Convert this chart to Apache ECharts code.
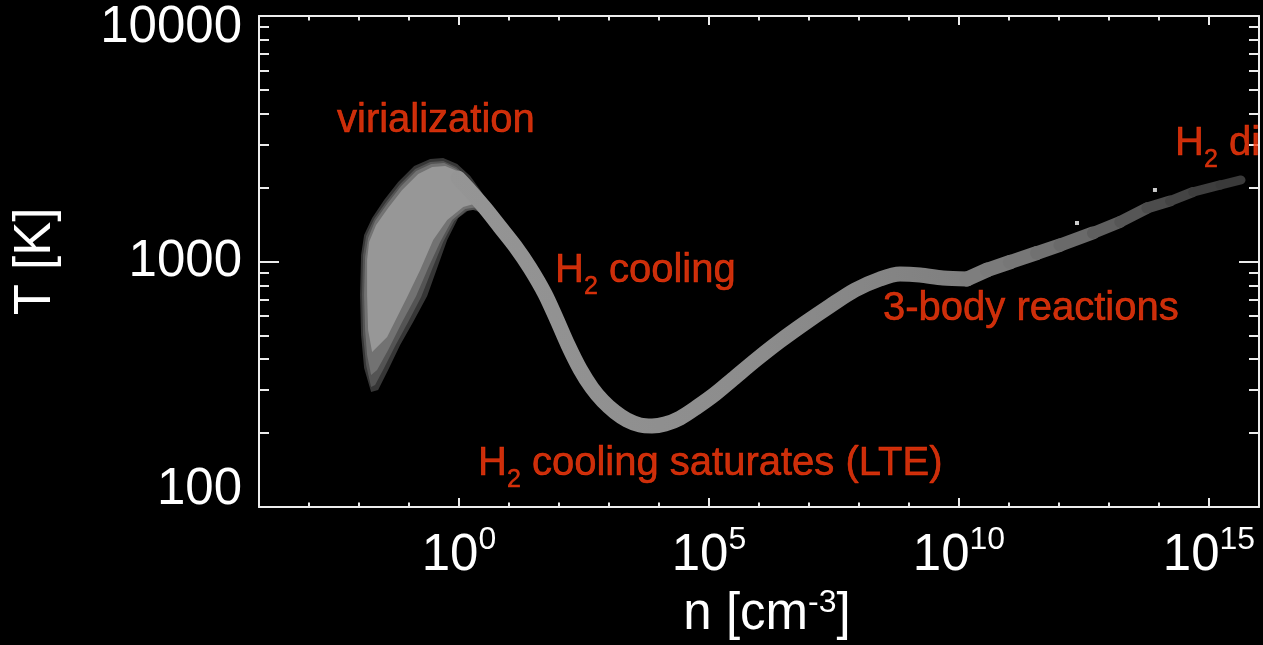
<!DOCTYPE html>
<html>
<head>
<meta charset="utf-8">
<script src="https://cdn.jsdelivr.net/npm/echarts@6/dist/echarts.min.js"></script>
<style>
  html, body { margin: 0; padding: 0; background: #000; }
  #chart { width: 1263px; height: 645px; }
</style>
</head>
<body>
<div id="chart"></div>
<script>
// Collapse track of primordial gas: number density n [cm^-3] vs temperature T [K]
const trackN = [0.955, 1.738, 3.311, 6.607, 13.18, 26.3, 52.5, 91.2, 151.4, 263, 457, 758.6, 1318, 2291,
  4169, 7244, 13180, 26300, 57540, 131800, 302000, 912000, 2.63e6, 8.32e6, 2.63e7, 8.32e7,
  2.63e8, 6.61e8, 1.66e9, 4.79e9, 1.445e10, 3.63e10, 1.047e11, 3.63e11, 1.047e12, 4.79e12,
  1.66e13, 5.75e13, 1.66e14, 4.79e14, 1.66e15, 4.37e15];
const trackT = [2188, 1920, 1651, 1382, 1156, 941, 737.4, 577.8, 457.0, 364.9, 305.3, 270, 243.8, 226.2,
  215.8, 213.8, 217.8, 230.4, 255.5, 288.6, 332.2, 400.7, 474.4, 561.6, 658.7, 765.5,
  848.7, 889.5, 881, 856.6, 848.7, 923.5, 995, 1083, 1167, 1307,
  1449, 1651, 1763, 1919, 2049, 2148];

// Spread of the halo population around virialization, outer to inner envelope [n, T]
const envelopeOuter = [[0.01746, 294.0], [0.01265, 368.3], [0.01101, 501.9], [0.01052, 730.4],
  [0.01101, 1063], [0.01265, 1282], [0.01828, 1504], [0.03177, 1780], [0.06065, 2108],
  [0.1268, 2449], [0.2651, 2615], [0.4828, 2640], [0.9204, 2496], [1.676, 2230], [2.657, 1956],
  [3.842, 1731], [2.914, 1576], [1.676, 1636], [0.9638, 1504], [0.5804, 1224], [0.3662, 941],
  [0.2309, 723.7], [0.1211, 567.1], [0.0665, 457.0], [0.03825, 361.4], [0.0241, 299.6]];
const envelopeWide = [[0.01746, 308.2], [0.01387, 378.8], [0.01207, 501.9], [0.01153, 730.4],
  [0.01207, 1063], [0.01387, 1270], [0.02004, 1490], [0.03483, 1748], [0.0665, 2069],
  [0.1328, 2382], [0.2651, 2543], [0.4828, 2567], [0.8789, 2426], [1.528, 2188], [2.423, 1938],
  [3.504, 1715], [2.537, 1636], [1.394, 1606], [0.8015, 1462], [0.4828, 1201], [0.2907, 932.1],
  [0.1751, 716.9], [0.09616, 567.1], [0.05281, 452.7], [0.03177, 368.3], [0.02099, 314.0]];
const envelopeMid = [[0.01746, 344.9], [0.01452, 416.0], [0.01324, 526.0], [0.01265, 730.4],
  [0.01324, 1043], [0.01521, 1246], [0.02099, 1462], [0.03652, 1715], [0.06964, 2030],
  [0.1390, 2337], [0.2776, 2496], [0.5056, 2519], [0.8789, 2382], [1.459, 2148], [2.313, 1920],
  [3.346, 1699], [2.423, 1667], [1.331, 1636], [0.7307, 1476], [0.4204, 1201], [0.2417, 941],
  [0.1390, 723.7], [0.07293, 567.1], [0.03825, 436.0], [0.02301, 361.4]];
const envelopeCore = [[0.01828, 427.9], [0.01521, 526.0], [0.01452, 730.4], [0.01452, 1014],
  [0.01592, 1201], [0.02198, 1408], [0.03825, 1651], [0.07293, 1956], [0.1525, 2272],
  [0.2907, 2426], [0.5294, 2449], [0.9204, 2337], [1.528, 2128], [2.423, 1901], [3.504, 1699],
  [2.313, 1731], [1.2137, 1667], [0.5804, 1476], [0.3044, 1224], [0.1672, 923.5],
  [0.09183, 716.9], [0.03652, 492.6], [0.0241, 452.7]];

// Stray single-cell points above the high-density track
const strayN = [2.29e12, 8.3e13];
const strayT = [1435, 1956];

// Process annotations (anchor: left edge, vertical middle)
const noteTexts = ['{t|virialization}', '{t|H}{sub|2}{t| cooling}',
  '{t|H}{sub|2}{t| cooling saturates (LTE)}', '{t|3-body reactions}', '{t|H}{sub|2}{t| di}'];
const noteN = [0.003631, 83.2, 2.399, 3.02e8, 2.089e14];
const noteT = [3736, 914.9, 149.7, 640.5, 3010];

// Axis ticks and labels
const xMajorTicks = [1, 1e5, 1e10, 1e15];
const xMajorExponents = ['0', '5', '10', '15'];
const xMinorTicks = [1e-3, 1e-2, 1e-1, 1e1, 1e2, 1e3, 1e4, 1e6, 1e7, 1e8, 1e9,
  1e11, 1e12, 1e13, 1e14];
const yMajorTicks = [100, 1000, 10000];
const yTickLabels = ['100', '1000', '10000'];
const yMinorTicks = [200, 300, 400, 500, 600, 700, 800, 900,
  2000, 3000, 4000, 5000, 6000, 7000, 8000, 9000];

const FONT = 'Liberation Sans';
const AXIS_COLOR = '#ececec';
const NOTE_COLOR = '#ff3a0c';

// The high-density end of the track thins out and darkens
const TAIL_START = 30;
const tailWidths = [15, 14.5, 14, 13.5, 13, 12, 11.5, 11, 10, 9.5, 9];
const tailColors = ['#7e7e7e', '#7b7b7b', '#777777', '#717171', '#6a6a6a', '#5f5f5f',
  '#565656', '#4c4c4c', '#444444', '#3e3e3e', '#3a3a3a'];

function pairs(xs, ys) { return xs.map((x, i) => [x, ys[i]]); }
const track = pairs(trackN, trackT);

function envelopeSeries(points, color) {
  return {
    type: 'custom', xAxisIndex: 0, yAxisIndex: 0, z: 3, silent: true,
    data: points,
    renderItem: function (params, api) {
      if (params.dataIndex !== 0) return null;
      return {
        type: 'polygon',
        shape: { points: points.map(p => api.coord(p)) },
        style: { fill: color }
      };
    }
  };
}

function trackLine(from, to, width, color, smooth) {
  return {
    type: 'line', xAxisIndex: 0, yAxisIndex: 0, z: 4, silent: true,
    data: track.slice(from, to + 1),
    showSymbol: false, smooth: smooth,
    lineStyle: { width: width, cap: 'round', join: 'round', color: color }
  };
}

const trackSeries = [
  trackLine(0, TAIL_START, 15, new echarts.graphic.LinearGradient(0, 0, 1, 0, [
    { offset: 0, color: '#959595' }, { offset: 0.6, color: '#8c8c8c' }, { offset: 1, color: '#7f7f7f' }
  ]), 0.3)
];
for (let i = TAIL_START; i < track.length - 1; i++) {
  const k = i - TAIL_START;
  trackSeries.push(trackLine(i, i + 1, tailWidths[k], tailColors[k], false));
}

function xAxis(position, ticks, len, labels) {
  return {
    type: 'log', logBase: 10, min: 1e-4, max: 1e16, position: position, gridIndex: 0,
    axisLine: { show: labels !== null, onZero: false, lineStyle: { color: AXIS_COLOR, width: 2 } },
    axisTick: { show: true, inside: true, length: len, customValues: ticks,
      lineStyle: { color: AXIS_COLOR, width: 2 } },
    axisLabel: labels ? labels : { show: false },
    splitLine: { show: false }, minorTick: { show: false }
  };
}
function yAxis(position, ticks, len, labels) {
  return {
    type: 'log', logBase: 10, min: 100, max: 10000, position: position, gridIndex: 0,
    axisLine: { show: labels !== null, onZero: false, lineStyle: { color: AXIS_COLOR, width: 2 } },
    axisTick: { show: true, inside: true, length: len, customValues: ticks,
      lineStyle: { color: AXIS_COLOR, width: 2 } },
    axisLabel: labels ? labels : { show: false },
    splitLine: { show: false }, minorTick: { show: false }
  };
}

const xLabels = {
  show: true, customValues: xMajorTicks, margin: 17, color: '#fff', fontFamily: FONT,
  formatter: function (v) {
    const i = xMajorTicks.findIndex(t => Math.abs(Math.log10(t) - Math.log10(v)) < 1e-6);
    return '{b|10}{s|' + xMajorExponents[i] + '}';
  },
  rich: {
    b: { fontSize: 51, color: '#fff', fontFamily: FONT },
    s: { fontSize: 32, color: '#fff', fontFamily: FONT, padding: [0, 0, 32, 0] }
  }
};
const yLabels = {
  show: true, customValues: yMajorTicks, margin: 17, color: '#fff', fontFamily: FONT,
  formatter: function (v) {
    const i = yMajorTicks.findIndex(t => Math.abs(t - v) < 1e-6 * t);
    const key = i === 0 ? 'lo' : (i === yMajorTicks.length - 1 ? 'hi' : 'mid');
    return '{' + key + '|' + yTickLabels[i] + '}';
  },
  rich: {
    lo: { fontSize: 51, color: '#fff', fontFamily: FONT, padding: [0, 0, 34, 0] },
    mid: { fontSize: 51, color: '#fff', fontFamily: FONT },
    hi: { fontSize: 51, color: '#fff', fontFamily: FONT, padding: [24, 0, 0, 0] }
  }
};

const xMain = xAxis('bottom', xMajorTicks, 9, xLabels);
xMain.name = '{b|n [cm}{s|-3}{b|]}';
xMain.nameLocation = 'middle';
xMain.nameGap = 80;
xMain.nameMoveOverlap = false;
xMain.nameTextStyle = {
  padding: [0, 0, 0, 16],
  rich: {
    b: { fontSize: 51, color: '#fff', fontFamily: FONT },
    s: { fontSize: 32, color: '#fff', fontFamily: FONT, padding: [0, 0, 24, 0] }
  }
};

const yMain = yAxis('left', yMajorTicks, 20, yLabels);
yMain.name = 'T [K]';
yMain.nameLocation = 'middle';
yMain.nameGap = 198;
yMain.nameMoveOverlap = false;
yMain.nameTextStyle = { fontSize: 51, color: '#fff', fontFamily: FONT };

const chart = echarts.init(document.getElementById('chart'), null, { renderer: 'canvas' });
chart.setOption({
  backgroundColor: '#000',
  animation: false,
  textStyle: { fontFamily: FONT },
  grid: { left: 259, right: 4, top: 16, bottom: 138, containLabel: false, outerBoundsMode: 'none' },
  xAxis: [
    xMain,
    xAxis('bottom', xMinorTicks, 4.5, null),
    xAxis('top', xMajorTicks, 9, { show: false }),
    xAxis('top', xMinorTicks, 4.5, null)
  ],
  yAxis: [
    yMain,
    yAxis('left', yMinorTicks, 10, null),
    yAxis('right', yMajorTicks, 20, { show: false }),
    yAxis('right', yMinorTicks, 10, null)
  ],
  series: [
    envelopeSeries(envelopeOuter, '#363636'),
    envelopeSeries(envelopeWide, '#545454'),
    envelopeSeries(envelopeMid, '#727272'),
    envelopeSeries(envelopeCore, '#979797')
  ].concat(trackSeries, [
    {
      type: 'scatter', xAxisIndex: 0, yAxisIndex: 0, z: 5, silent: true,
      symbol: 'rect', symbolSize: 4, itemStyle: { color: '#ffffff' },
      data: pairs(strayN, strayT)
    },
    {
      type: 'scatter', xAxisIndex: 0, yAxisIndex: 0, z: 6, silent: true,
      symbolSize: 0,
      data: noteN.map((n, i) => [n, noteT[i], noteTexts[i]]),
      label: {
        show: true, position: 'right', distance: 0,
        formatter: p => p.data[2],
        rich: {
          t: { fontSize: 40, color: NOTE_COLOR, fontFamily: FONT,
            textBorderColor: NOTE_COLOR, textBorderWidth: 0.6 },
          sub: { fontSize: 25, color: NOTE_COLOR, fontFamily: FONT,
            textBorderColor: NOTE_COLOR, textBorderWidth: 0.5, padding: [33, 0, 0, 0] }
        }
      },
      labelLayout: { hideOverlap: false }
    }
  ])
});
</script>
</body>
</html>
